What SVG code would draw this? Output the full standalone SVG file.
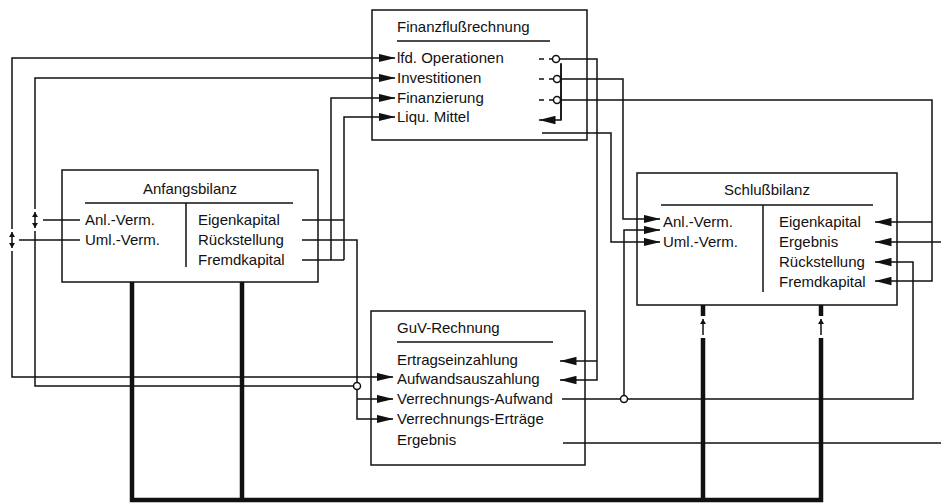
<svg xmlns="http://www.w3.org/2000/svg" width="941" height="504" viewBox="0 0 941 504">
<style>
.box{fill:#fff;stroke:#111;stroke-width:1.5}
.t{font-family:"Liberation Sans",Arial,Helvetica,sans-serif;font-size:15px;fill:#111}
.m{text-anchor:middle}
.c{fill:none;stroke:#111;stroke-width:1.5}
.a{marker-end:url(#ah)}
.thick{fill:none;stroke:#111;stroke-width:4.5}
.j{fill:#fff;stroke:#111;stroke-width:1.5}
.dd{marker-start:url(#sa);marker-end:url(#sa)}
.up{marker-end:url(#sa)}
</style>
<defs>
<marker id="ah" markerUnits="userSpaceOnUse" markerWidth="17" markerHeight="9" viewBox="0 0 17 9" refX="16.5" refY="4.5" orient="auto"><path d="M0,0.3 L17,4.5 L0,8.7 z" fill="#111"/></marker>
<marker id="sa" markerUnits="userSpaceOnUse" markerWidth="5" markerHeight="6" viewBox="0 0 5 6" refX="5" refY="3" orient="auto-start-reverse"><path d="M0,0 L5,3 L0,6 z" fill="#111"/></marker>
</defs>
<rect width="941" height="504" fill="#fff"/>

<g id="finanzflussrechnung">
<rect class="box" x="372" y="10" width="215" height="130"/>
<text class="t" x="397" y="32">Finanzflußrechnung</text>
<line class="c" x1="397" y1="41" x2="550" y2="41"/>
<text class="t" x="397" y="63">lfd. Operationen</text>
<text class="t" x="397" y="83">Investitionen</text>
<text class="t" x="397" y="103">Finanzierung</text>
<text class="t" x="397" y="122">Liqu. Mittel</text>
<path class="c" d="M539,59 H544 M549,59 H553 M539,79 H544 M549,79 H553 M539,100 H544 M549,100 H553"/>
</g>

<g id="anfangsbilanz">
<rect class="box" x="62" y="170" width="256" height="112"/>
<text class="t m" x="190" y="194">Anfangsbilanz</text>
<line class="c" x1="85" y1="203" x2="293" y2="203"/>
<line class="c" x1="186" y1="203" x2="186" y2="267"/>
<text class="t" x="85" y="225">Anl.-Verm.</text>
<text class="t" x="85" y="245">Uml.-Verm.</text>
<text class="t" x="198" y="225">Eigenkapital</text>
<text class="t" x="198" y="245">Rückstellung</text>
<text class="t" x="198" y="265">Fremdkapital</text>
</g>

<g id="schlussbilanz">
<rect class="box" x="637" y="173" width="260" height="132"/>
<text class="t m" x="767" y="195">Schlußbilanz</text>
<line class="c" x1="661" y1="205" x2="873" y2="205"/>
<line class="c" x1="763" y1="205" x2="763" y2="292"/>
<text class="t" x="663" y="227">Anl.-Verm.</text>
<text class="t" x="663" y="247">Uml.-Verm.</text>
<text class="t" x="779" y="227">Eigenkapital</text>
<text class="t" x="779" y="247">Ergebnis</text>
<text class="t" x="779" y="267">Rückstellung</text>
<text class="t" x="779" y="287">Fremdkapital</text>
</g>

<g id="guv-rechnung">
<rect class="box" x="371" y="311" width="214" height="154"/>
<text class="t" x="397" y="333">GuV-Rechnung</text>
<line class="c" x1="397" y1="342" x2="553" y2="342"/>
<text class="t" x="397" y="365">Ertragseinzahlung</text>
<text class="t" x="397" y="384">Aufwandsauszahlung</text>
<text class="t" x="397" y="404">Verrechnungs-Aufwand</text>
<text class="t" x="397" y="424">Verrechnungs-Erträge</text>
<text class="t" x="397" y="445">Ergebnis</text>
</g>

<g id="connectors">
<!-- left outer loops -->
<path class="c a" d="M12,229 V58 H395"/>
<path class="c dd" d="M12,232 V248"/>
<path class="c a" d="M12,251 V377 H393"/>
<path class="c" d="M19,240 H80"/>
<path class="c a" d="M35,209 V78 H395"/>
<path class="c dd" d="M35,212 V228"/>
<path class="c" d="M35,231 V386 H353"/>
<path class="c" d="M43,220 H80"/>
<!-- Anfangsbilanz right side -->
<path class="c" d="M302,220 H344"/>
<path class="c" d="M302,260 H344"/>
<path class="c a" d="M331,260 V98 H395"/>
<path class="c a" d="M344,260 V117 H395"/>
<path class="c a" d="M302,240 H357 V419 H393"/>
<path class="c a" d="M357,399 H393"/>
<circle class="j" cx="357" cy="386" r="3.5"/>
<!-- Finanzflussrechnung outputs -->
<path class="c a" d="M560,59 H597 V380 H560"/>
<path class="c a" d="M597,361 H560"/>
<path class="c a" d="M561,63 V120 H539"/>
<path class="c a" d="M561,79 H623 V219 H660"/>
<path class="c a" d="M561,100 H932 V281 H875"/>
<path class="c a" d="M932,222 H875"/>
<path class="c a" d="M542,133 H611 V242 H660"/>
<circle class="j" cx="556" cy="59" r="3.5"/>
<circle class="j" cx="557" cy="79" r="3.5"/>
<circle class="j" cx="557" cy="100" r="3.5"/>
<path class="c" d="M561,64 V120"/>
<!-- GuV outputs -->
<path class="c" d="M562,399 H620"/>
<circle class="j" cx="624" cy="399" r="3.5"/>
<path class="c a" d="M624,395.5 V230 H660"/>
<path class="c a" d="M627.5,399 H913 V262 H875"/>
<path class="c" d="M563,443 H941"/>
<path class="c a" d="M941,242 H875"/>
<!-- thick balance carry-over -->
<path class="thick" d="M132,282 V500 H821 V338"/>
<path class="thick" d="M242,282 V500"/>
<path class="thick" d="M703,338 V500"/>
<path class="thick" d="M703,305 V316"/>
<path class="thick" d="M821,305 V316"/>
<path class="c up" d="M703,335 V319"/>
<path class="c up" d="M821,335 V319"/>
</g>
</svg>
